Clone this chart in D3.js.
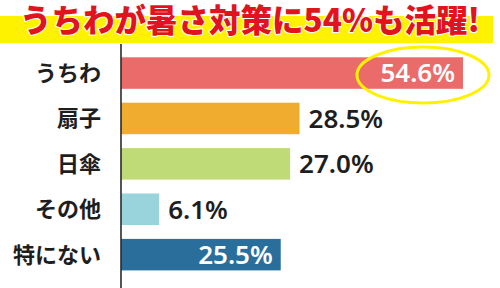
<!DOCTYPE html>
<html><head><meta charset="utf-8">
<script src="https://cdn.jsdelivr.net/npm/d3@7"></script>
<style>html,body{margin:0;padding:0;background:#fff;}svg{display:block;}</style>
</head><body>
<svg id="chart" width="500" height="288"></svg>
<script>
const title = "うちわが暑さ対策に54%も活躍!";
const categories = ["うちわ", "扇子", "日傘", "その他", "特にない"];
const values = [54.6, 28.5, 27.0, 6.1, 25.5];
const valueLabels = ["54.6%", "28.5%", "27.0%", "6.1%", "25.5%"];
const labelInside = [true, false, false, false, true];
const colors = ["#eb6b6b", "#f0ac2f", "#bedb78", "#99d3dc", "#2a6e9c"];
const highlightIndex = 0;

const svg = d3.select("#chart");
const W = 500, H = 288;

// title band
svg.append("rect").attr("x", 0).attr("y", 16).attr("width", 493).attr("height", 27).attr("fill", "#fff200");
svg.append("text").text(title)
  .attr("x", 20).attr("y", 31.5)
  .attr("textLength", 460).attr("lengthAdjust", "spacingAndGlyphs")
  .attr("font-family", "'Noto Sans CJK JP'").attr("font-weight", 900)
  .attr("font-size", 32).attr("fill", "#e1141e")
  .attr("stroke", "#fff").attr("stroke-width", 2).attr("paint-order", "stroke")
  .attr("stroke-linejoin", "round");

const x = d3.scaleLinear().domain([0, 54.6]).range([121, 463]);
const y = d3.scaleBand().domain(categories).range([50.35, 277.35]).paddingInner(0.306).paddingOuter(0.153);

// bars
svg.selectAll("rect.bar").data(values).join("rect").attr("class", "bar")
  .attr("x", x(0)).attr("y", (d, i) => y(categories[i]))
  .attr("width", d => x(d) - x(0)).attr("height", y.bandwidth())
  .attr("fill", (d, i) => colors[i]);

// axis line
svg.append("line").attr("x1", x(0)).attr("x2", x(0)).attr("y1", 44).attr("y2", H)
  .attr("stroke", "#2a2a2a").attr("stroke-width", 1.6);

// category labels
svg.selectAll("text.cat").data(categories).join("text").attr("class", "cat")
  .attr("x", 101).attr("y", d => y(d) + y.bandwidth() / 2)
  .attr("dy", "0.36em").attr("text-anchor", "end")
  .attr("font-family", "'Noto Sans CJK JP'").attr("font-weight", 700)
  .attr("font-size", 22).attr("fill", "#1e1e1e").text(d => d);

// value labels
svg.selectAll("text.val").data(values).join("text").attr("class", "val")
  .attr("x", (d, i) => labelInside[i] ? x(d) - 8 : x(d) + 9)
  .attr("y", (d, i) => y(categories[i]) + y.bandwidth() / 2)
  .attr("dy", "0.36em")
  .attr("text-anchor", (d, i) => labelInside[i] ? "end" : "start")
  .attr("font-family", "'Noto Sans'").attr("font-weight", 600)
  .attr("font-size", 26)
  .attr("fill", (d, i) => labelInside[i] ? "#fff" : "#1e1e1e")
  .text((d, i) => valueLabels[i]);

// highlight ellipse
const hv = values[highlightIndex];
svg.append("ellipse")
  .attr("cx", x(hv) - 40).attr("cy", y(categories[highlightIndex]) + y.bandwidth() / 2 + 2)
  .attr("rx", 66).attr("ry", 28)
  .attr("fill", "none").attr("stroke", "#fff200").attr("stroke-width", 3);
</script>
</body></html>
